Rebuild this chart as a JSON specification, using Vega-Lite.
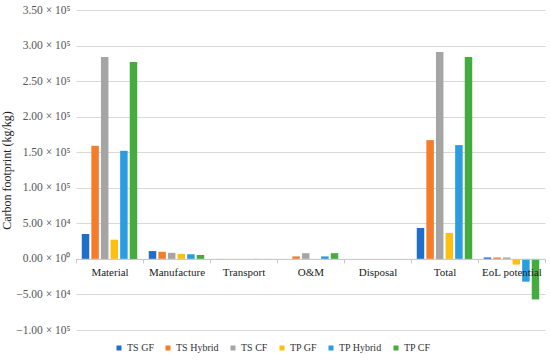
{
  "$schema": "https://vega.github.io/schema/vega-lite/v6.json",
  "width": 469,
  "height": 320,
  "autosize": {"type": "none"},
  "padding": {"left": 76, "top": 10, "right": 5, "bottom": 34},
  "background": "white",
  "config": {
    "view": {"stroke": null},
    "font": "Liberation Serif"
  },
  "data": {
    "values": [
      {"stage": "Material", "series": "TS GF", "value": 35000},
      {"stage": "Material", "series": "TS Hybrid", "value": 159000},
      {"stage": "Material", "series": "TS CF", "value": 284000},
      {"stage": "Material", "series": "TP GF", "value": 27000},
      {"stage": "Material", "series": "TP Hybrid", "value": 152000},
      {"stage": "Material", "series": "TP CF", "value": 277000},
      {"stage": "Manufacture", "series": "TS GF", "value": 11000},
      {"stage": "Manufacture", "series": "TS Hybrid", "value": 10000},
      {"stage": "Manufacture", "series": "TS CF", "value": 8500},
      {"stage": "Manufacture", "series": "TP GF", "value": 7000},
      {"stage": "Manufacture", "series": "TP Hybrid", "value": 6500},
      {"stage": "Manufacture", "series": "TP CF", "value": 5500},
      {"stage": "Transport", "series": "TS GF", "value": 100},
      {"stage": "Transport", "series": "TS Hybrid", "value": 100},
      {"stage": "Transport", "series": "TS CF", "value": 100},
      {"stage": "Transport", "series": "TP GF", "value": 100},
      {"stage": "Transport", "series": "TP Hybrid", "value": 100},
      {"stage": "Transport", "series": "TP CF", "value": 100},
      {"stage": "O&M", "series": "TS GF", "value": 0},
      {"stage": "O&M", "series": "TS Hybrid", "value": 3500},
      {"stage": "O&M", "series": "TS CF", "value": 8000},
      {"stage": "O&M", "series": "TP GF", "value": 0},
      {"stage": "O&M", "series": "TP Hybrid", "value": 3500},
      {"stage": "O&M", "series": "TP CF", "value": 8000},
      {"stage": "Disposal", "series": "TS GF", "value": 0},
      {"stage": "Disposal", "series": "TS Hybrid", "value": 0},
      {"stage": "Disposal", "series": "TS CF", "value": 0},
      {"stage": "Disposal", "series": "TP GF", "value": 0},
      {"stage": "Disposal", "series": "TP Hybrid", "value": 0},
      {"stage": "Disposal", "series": "TP CF", "value": 0},
      {"stage": "Total", "series": "TS GF", "value": 43500},
      {"stage": "Total", "series": "TS Hybrid", "value": 167000},
      {"stage": "Total", "series": "TS CF", "value": 291000},
      {"stage": "Total", "series": "TP GF", "value": 36500},
      {"stage": "Total", "series": "TP Hybrid", "value": 160000},
      {"stage": "Total", "series": "TP CF", "value": 284000},
      {"stage": "EoL potential", "series": "TS GF", "value": 2000},
      {"stage": "EoL potential", "series": "TS Hybrid", "value": 2000},
      {"stage": "EoL potential", "series": "TS CF", "value": 2000},
      {"stage": "EoL potential", "series": "TP GF", "value": -8000},
      {"stage": "EoL potential", "series": "TP Hybrid", "value": -32000},
      {"stage": "EoL potential", "series": "TP CF", "value": -57000}
    ]
  },
  "mark": {"type": "bar"},
  "encoding": {
    "x": {
      "field": "stage",
      "type": "nominal",
      "sort": ["Material", "Manufacture", "Transport", "O&M", "Disposal", "Total", "EoL potential"],
      "scale": {"paddingInner": 0, "paddingOuter": 0},
      "axis": {
        "title": null,
        "labelAngle": 0,
        "labelFont": "Liberation Serif",
        "labelFontSize": 11,
        "labelColor": "#222222",
        "labelPadding": 4,
        "offset": -71.1,
        "domainColor": "#c8c8c8",
        "tickColor": "#c8c8c8",
        "tickBand": "extent",
        "tickSize": 4,
        "grid": false,
        "zindex": 1
      }
    },
    "xOffset": {
      "field": "series",
      "type": "nominal",
      "sort": ["TS GF", "TS Hybrid", "TS CF", "TP GF", "TP Hybrid", "TP CF"],
      "scale": {"paddingInner": 0.22, "paddingOuter": 0.6}
    },
    "y": {
      "field": "value",
      "type": "quantitative",
      "scale": {"domain": [-100000, 350000], "nice": false, "zero": false},
      "axis": {
        "title": "Carbon footprint (kg/kg)",
        "titleFont": "Liberation Serif",
        "titleFontSize": 12,
        "titleFontWeight": "normal",
        "titleColor": "#222222",
        "titlePadding": 2,
        "values": [-100000, -50000, 0, 50000, 100000, 150000, 200000, 250000, 300000, 350000],
        "labelExpr": "datum.value == 0 ? '0.00 × 10⁰' : (datum.value < 0 ? '−' : '') + format(abs(datum.value) / pow(10, floor(log(abs(datum.value)) / LN10 + 1e-9)), '.2f') + ' × 10' + (floor(log(abs(datum.value)) / LN10 + 1e-9) == 5 ? '⁵' : '⁴')",
        "labelFont": "Liberation Serif",
        "labelFontSize": 11.5,
        "labelColor": "#555555",
        "labelPadding": 6,
        "domain": false,
        "ticks": false,
        "grid": true,
        "gridColor": "#d9d9d9",
        "gridWidth": 1
      }
    },
    "color": {
      "field": "series",
      "type": "nominal",
      "sort": ["TS GF", "TS Hybrid", "TS CF", "TP GF", "TP Hybrid", "TP CF"],
      "scale": {
        "domain": ["TS GF", "TS Hybrid", "TS CF", "TP GF", "TP Hybrid", "TP CF"],
        "range": ["#1f6ec9", "#f57c2b", "#a5a5a5", "#fdc010", "#2a9ce0", "#46ab3e"]
      },
      "legend": {
        "title": null,
        "orient": "none",
        "legendX": 38,
        "legendY": 333,
        "direction": "horizontal",
        "symbolType": "square",
        "symbolSize": 25,
        "symbolStrokeWidth": 0,
        "labelOffset": 3,
        "labelFont": "Liberation Serif",
        "labelFontSize": 10,
        "labelColor": "#333333",
        "columnPadding": 9
      }
    }
  }
}
